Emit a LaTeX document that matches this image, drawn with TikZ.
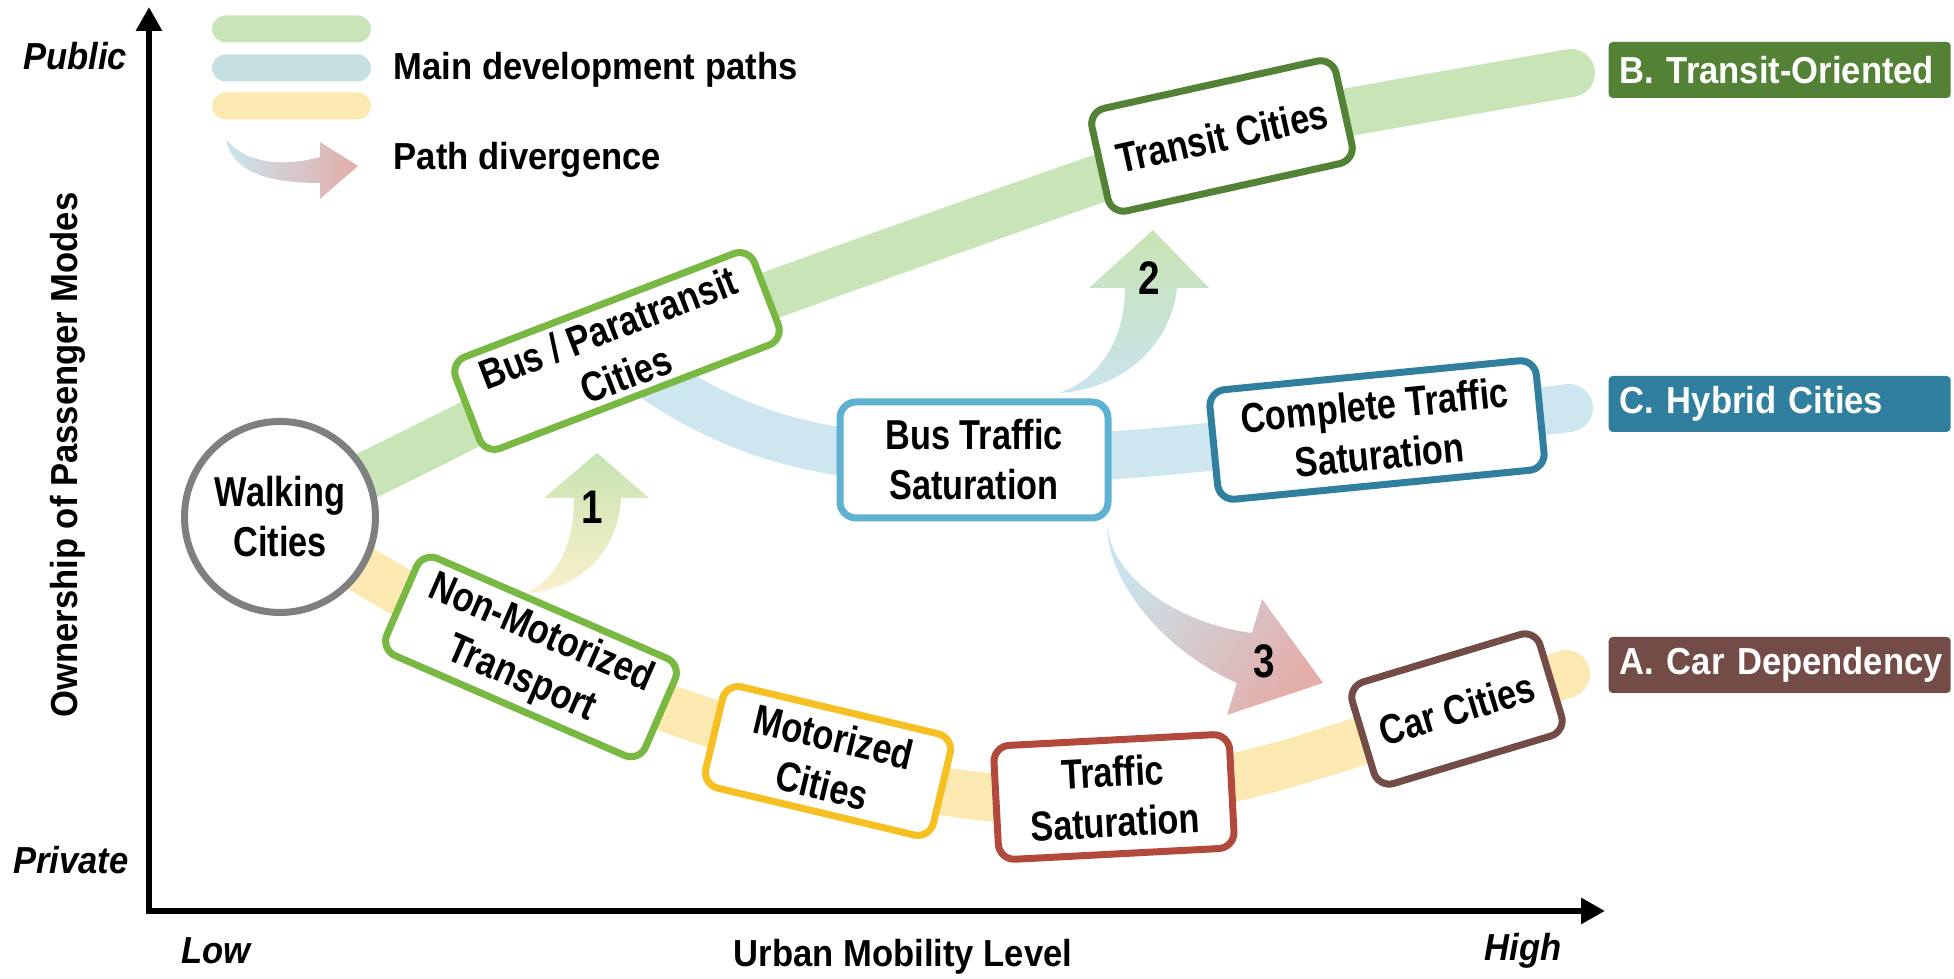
\documentclass[tikz,border=0pt]{standalone}
\usepackage{fontspec}
\setmainfont{Liberation Sans}[FakeStretch=0.92]
\newfontfamily\boxfont{Liberation Sans}[FakeStretch=0.82]
\usetikzlibrary{arrows.meta,backgrounds}

\definecolor{bandgreen}{HTML}{C9E5B7}
\definecolor{bandblue}{HTML}{CDE6F0}
\definecolor{bandyellow}{HTML}{FCE9B2}
\definecolor{legblue}{HTML}{C6DFE2}
\definecolor{busgreen}{HTML}{79B943}
\definecolor{darkgreen}{HTML}{538135}
\definecolor{skyblue}{HTML}{5EB1D1}
\definecolor{teal}{HTML}{317F9E}
\definecolor{gold}{HTML}{F6BF22}
\definecolor{brick}{HTML}{B14A3D}
\definecolor{brown}{HTML}{734B47}
\definecolor{walkgray}{HTML}{7F7F7F}
\definecolor{arrgreen}{HTML}{C7E4B3}
\definecolor{arryellow}{HTML}{FBF0CC}
\definecolor{arrblue}{HTML}{CAE4EE}
\definecolor{arrpink}{HTML}{E3ADA9}

\begin{document}
\begin{tikzpicture}[x=0.1mm, y=0.1mm,
    city/.style={draw, fill=white, line width=0.7mm, rounded corners=1.6mm, inner sep=0pt, align=center, font=\boxfont\bfseries\fontsize{11.9}{14.2}\selectfont},
    band/.style={line width=4.8mm, line cap=round},
    goal/.style={fill=#1, text=white, anchor=west, rounded corners=0.4mm, inner xsep=1.1mm, inner ysep=0pt, text width=32mm, minimum height=5.6mm, align=left, font=\bfseries\fontsize{10.7}{12}\selectfont},
    legbar/.style={fill=#1, rounded corners=1.35mm, minimum width=15.9mm, minimum height=2.7mm, inner sep=0pt},
    lbl/.style={inner sep=0pt, font=\bfseries\fontsize{10.7}{12}\selectfont},
    endlabel/.style={inner sep=0pt, font=\bfseries\itshape\fontsize{10.7}{12}\selectfont},
    num/.style={inner sep=0pt, font=\boxfont\bfseries\fontsize{13.4}{15}\selectfont},
    axisline/.style={line width=0.6mm, {Triangle[width=2.5mm,length=2.4mm]}-{Triangle[width=2.5mm,length=2.4mm]}}]
    \useasboundingbox (0,0) rectangle (1954,979);

    \coordinate (O) at (149,68);
    \coordinate (ytip) at (149,972);
    \coordinate (xtip) at (1605,68);
    \draw [axisline] (ytip) -- (O) -- (xtip);
    \node [endlabel] (pub) at (75,923) {Public};
    \node [endlabel] (priv) at (71,119) {Private};
    \node [endlabel] (low) at (216,28) {Low};
    \node [endlabel] (high) at (1523,28) {High};
    \node [lbl] (xlab) at (903,22) {Urban Mobility Level};
    \node [lbl, rotate=90] (ylab) at (68,524) {Ownership of Passenger Modes};

    \node [legbar=bandgreen] (lg) at (291.5,950) {};
    \node [legbar=legblue] (lb) at (291.5,911) {};
    \node [legbar=bandyellow] (ly) at (291.5,873) {};
    \node [lbl, anchor=base west] (legmain) at (393,899) {Main development paths};
    \node [lbl, anchor=base west] (legdiv) at (393,809) {Path divergence};

    \node [circle, draw=walkgray, fill=white, line width=0.7mm, minimum size=19.1mm, inner sep=0pt, align=center, font=\boxfont\bfseries\fontsize{11.9}{14.2}\selectfont] (walk) at (280,462) {Walking\\Cities};
    \node [city, draw=busgreen, minimum width=32mm, minimum height=9.8mm, rotate=21] (bus) at (617,628) {Bus / Paratransit\\Cities};
    \node [city, draw=darkgreen, minimum width=25mm, minimum height=10.5mm, rotate=12.5] (transit) at (1222,843) {Transit Cities};
    \node [city, draw=skyblue, minimum width=26.8mm, minimum height=11.6mm] (bustraffic) at (974,519) {Bus Traffic\\Saturation};
    \node [city, draw=teal, minimum width=32.8mm, minimum height=11mm, rotate=5.6] (complete) at (1377,549) {Complete Traffic\\Saturation};
    \node [city, draw=busgreen, minimum width=28.2mm, minimum height=10.6mm, rotate=-23.5] (nonmotor) at (531,322) {Non-Motorized\\Transport};
    \node [city, draw=gold, minimum width=23.4mm, minimum height=10.4mm, rotate=-13.4] (motor) at (828,218) {Motorized\\Cities};
    \node [city, draw=brick, minimum width=23.6mm, minimum height=11.4mm, rotate=3] (trafsat) at (1114,182) {Traffic\\Saturation};
    \node [city, draw=brown, minimum width=19.6mm, minimum height=10.6mm, rotate=16.8] (car) at (1457,270) {Car Cities};

    \coordinate (endB) at (1571,906);
    \coordinate (endC) at (1569,571);
    \coordinate (endA) at (1566,305);
    \node [goal=darkgreen] (goalB) at (1608,909) {\mbox{B. Transit-Oriented}};
    \node [goal=teal] (goalC) at (1608,575) {\mbox{C. Hybrid Cities}};
    \node [goal=brown] (goalA) at (1608,314) {\mbox{A. Car Dependency}};

    \node [num] (n1) at (592,472) {1};
    \node [num] (n2) at (1149,701) {2};
    \node [num] (n3) at (1264,318) {3};

    \begin{scope}[on background layer]
        \draw [band, bandgreen] (walk.center) to[out=25,in=206] (bus.center) to[out=20,in=199] (transit.center) to[out=11,in=190] (endB);
        \draw [band, bandblue] (bus.center) to[out=-38,in=180] (bustraffic.center) to[out=0,in=185] (complete.center) to[out=6,in=187] (endC);
        \draw [band, bandyellow] (walk.center) to[out=-34,in=155] (nonmotor.center) to[out=-21,in=163] (motor.center) to[out=-18,in=184] (trafsat.center) to[out=6,in=198] (car.center) to[out=18,in=198] (endA);

        \shade [bottom color=arryellow, top color=arrgreen] (527,386) .. controls (555,400) and (574,430) .. (574,481) -- (544,481) -- (597,526) -- (649,481) -- (621,481) .. controls (619,430) and (582,390) .. (527,386) -- cycle;
        \shade [bottom color=arrblue, top color=arrgreen] (1059,586) .. controls (1100,600) and (1125,640) .. (1125,691) -- (1089,691) -- (1153,749) -- (1209,691) -- (1177,691) .. controls (1170,630) and (1120,590) .. (1059,586) -- cycle;
        \shade [top color=arrblue, bottom color=arrpink, shading angle=54] (1107,454) .. controls (1112,400) and (1180,355) .. (1252,346) -- (1262,380) -- (1323,296) -- (1227,264) -- (1237,296) .. controls (1160,330) and (1107,400) .. (1107,454) -- cycle;
        \shade [left color=arrblue, right color=arrpink] (226,840) .. controls (245,815) and (285,812) .. (320,822) -- (320,837) -- (358,813) -- (320,780) -- (320,796) .. controls (265,796) and (232,808) .. (226,840) -- cycle;
    \end{scope}
\end{tikzpicture}
\end{document}
